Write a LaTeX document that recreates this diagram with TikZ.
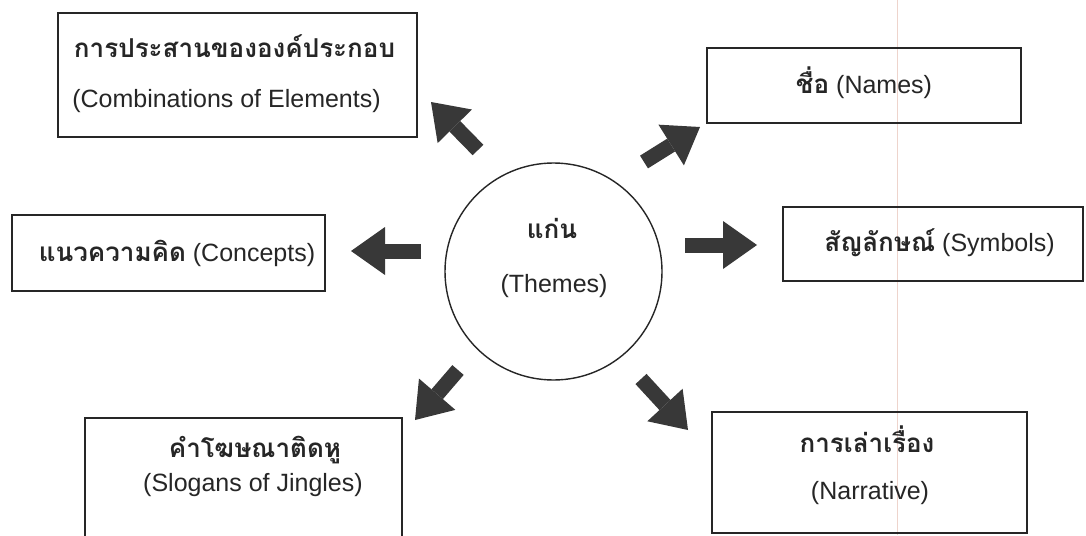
\documentclass[tikz,border=0pt]{standalone}
\usepackage{fontspec}
\setmainfont{Liberation Sans}
\newfontfamily\thaifont[Script=Thai]{Loma}
\usetikzlibrary{arrows.meta}

\definecolor{marginrule}{RGB}{238,212,204}

\tikzset{
  frame/.style={draw=black!85, line width=1.6pt, rectangle, inner sep=0pt},
  hub/.style={draw=black!85, line width=1.4pt, circle, inner sep=0pt, minimum size=217pt},
  en/.style={anchor=base, inner sep=0pt, text=black!85, font=\fontsize{25}{25}\selectfont},
  th/.style={anchor=base, inner sep=0pt, text=black!85, font=\thaifont\bfseries\fontsize{26}{26}\selectfont},
  mix/.style={anchor=base, inner sep=0pt, text=black!85, font=\fontsize{25}{25}\selectfont},
  bigarrow/.style={draw=black!78, line width=15pt,
    -{Triangle[width=48pt, length=34pt, line width=0pt]}},
}
\newcommand{\thtext}[1]{{\thaifont\bfseries\fontsize{26}{26}\selectfont #1}}

\begin{document}
\begin{tikzpicture}[x=1pt, y=-1pt]
  \useasboundingbox (0,0) rectangle (1086,535);
  \fill[white] (0,0) rectangle (1086,535);
  \clip (0,0) rectangle (1086,535);

  % faint margin rule
  \draw[line width=0.8pt, marginrule] (897,0) -- (897,535);

  % central theme
  \node[hub] (hub) at (553.5,271.5) {};
  \node[th] (hubTh) at (552,238) {แก่น};
  \node[en] (hubEn) at (554,292) {(Themes)};

  % surrounding boxes
  \node[frame, minimum width=359pt, minimum height=124pt] (combo) at (237.5,75) {};
  \node[th] (comboTh) at (234.5,57) {การประสานขององค์ประกอบ};
  \node[en] (comboEn) at (226.5,107) {(Combinations of Elements)};

  \node[frame, minimum width=314pt, minimum height=75pt] (names) at (864,85.5) {};
  \node[mix] (namesTx) at (864,93) {\thtext{ชื่อ} (Names)};

  \node[frame, minimum width=313pt, minimum height=76pt] (concepts) at (168.5,253) {};
  \node[mix] (conceptsTx) at (177,261) {\thtext{แนวความคิด} (Concepts)};

  \node[frame, minimum width=300pt, minimum height=74pt] (symbols) at (933,244) {};
  \node[mix] (symbolsTx) at (939.5,251) {\thtext{สัญลักษณ์} (Symbols)};

  \node[frame, minimum width=317pt, minimum height=132pt] (slogans) at (243.5,484) {};
  \node[th] (slogansTh) at (255,457) {คำโฆษณาติดหู};
  \node[en] (slogansEn) at (253,491) {(Slogans of Jingles)};

  \node[frame, minimum width=315pt, minimum height=121pt] (story) at (869.5,472.5) {};
  \node[th] (storyTh) at (867,452) {การเล่าเรื่อง};
  \node[en] (storyEn) at (870,499) {(Narrative)};

  % block arrows pointing outward from the theme
  \coordinate (ulT) at (478,150);  \coordinate (ulH) at (431,102);
  \coordinate (urT) at (644,162);  \coordinate (urH) at (700,127);
  \coordinate (lT)  at (421,251);  \coordinate (lH)  at (351,251);
  \coordinate (rT)  at (685,245);  \coordinate (rH)  at (757,245);
  \coordinate (llT) at (458,370);  \coordinate (llH) at (415,420);
  \coordinate (lrT) at (641,379);  \coordinate (lrH) at (688,430);

  \draw[bigarrow] (ulT) -- (ulH);
  \draw[bigarrow] (urT) -- (urH);
  \draw[bigarrow] (lT)  -- (lH);
  \draw[bigarrow] (rT)  -- (rH);
  \draw[bigarrow] (llT) -- (llH);
  \draw[bigarrow] (lrT) -- (lrH);
\end{tikzpicture}
\end{document}
